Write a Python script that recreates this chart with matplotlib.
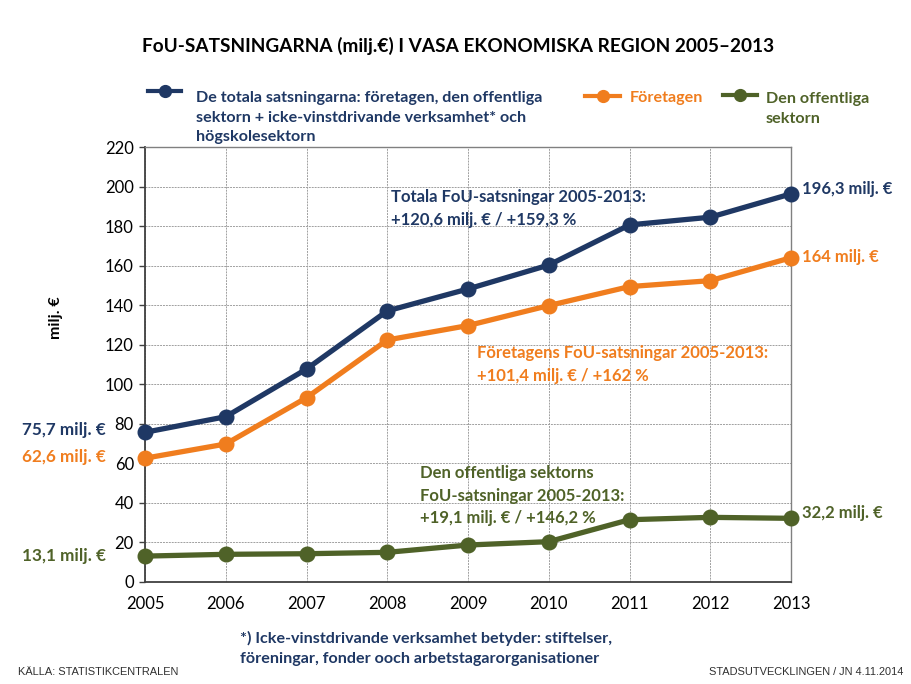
import matplotlib
matplotlib.use("Agg")
import matplotlib.pyplot as plt
from matplotlib.lines import Line2D

years = [2005, 2006, 2007, 2008, 2009, 2010, 2011, 2012, 2013]
totala = [75.7, 83.6, 107.7, 137.1, 148.2, 160.3, 180.6, 184.5, 196.3]
foretagen = [62.6, 69.8, 93.2, 122.4, 129.7, 139.8, 149.4, 152.4, 164.0]
offentliga = [13.1, 14.0, 14.3, 15.0, 18.7, 20.4, 31.5, 32.7, 32.2]
yticks = list(range(0, 221, 20))

NAVY = "#1f3864"
ORANGE = "#f07d1e"
GREEN = "#4f6228"

plt.rcParams['font.family'] = ['Lato', 'DejaVu Sans']

W, H = 911, 684
fig = plt.figure(figsize=(W / 100, H / 100), dpi=100)

def fx(x):
    return x / W

def fy(y):
    return 1 - y / H

ax = fig.add_axes([fx(145), fy(582), fx(791) - fx(145), fy(147) - fy(582)])

for data, col in [(totala, NAVY), (foretagen, ORANGE), (offentliga, GREEN)]:
    ax.plot(years, data, color=col, lw=3.8, marker='o', ms=10.5, zorder=3, clip_on=False)

ax.set_xlim(2005, 2013)
ax.set_ylim(0, 220)
ax.set_xticks(years)
ax.set_yticks(yticks)
ax.tick_params(axis='both', labelsize=12, colors='black')
ax.tick_params(axis='x', length=0, pad=10)
ax.tick_params(axis='y', length=4, width=1, color='#404040', pad=4)
ax.grid(True, color='#a0a0a0', lw=0.7, ls=(0, (2, 1)))
ax.set_axisbelow(True)
for s in ['top', 'right']:
    ax.spines[s].set_color('#808080')
    ax.spines[s].set_linewidth(1)
for s in ['left', 'bottom']:
    ax.spines[s].set_color('#404040')
    ax.spines[s].set_linewidth(1.3)
fig.text(fx(56), fy(318), 'milj. €', rotation=90, fontsize=11.5, fontweight='bold',
         ha='center', va='center')

# Title
fig.text(fx(458), fy(46), 'FoU-SATSNINGARNA (milj.€) I VASA EKONOMISKA REGION 2005–2013',
         fontsize=13.7, fontweight='bold', ha='center', va='center', color='black')

# Legend (manual)
def legend_marker(x0, x1, y, col):
    fig.add_artist(Line2D([fx(x0), fx(x1)], [fy(y), fy(y)], color=col, lw=3.0,
                          transform=fig.transFigure))
    fig.add_artist(Line2D([fx((x0 + x1) / 2)], [fy(y)], color=col, marker='o', ms=8.5,
                          transform=fig.transFigure))

legend_marker(148, 181, 91, NAVY)
fig.text(fx(196), fy(91), 'De totala satsningarna: företagen, den offentliga\n'
         'sektorn + icke-vinstdrivande verksamhet* och\nhögskolesektorn',
         fontsize=11.6, fontweight='bold', color=NAVY, ha='left', va='top',
         linespacing=1.52)
legend_marker(585, 620, 96, ORANGE)
fig.text(fx(630), fy(98), 'Företagen', fontsize=11.6, fontweight='bold', color=ORANGE,
         ha='left', va='center')
legend_marker(723, 757, 95, GREEN)
fig.text(fx(766), fy(92), 'Den offentliga\nsektorn', fontsize=11.6, fontweight='bold',
         color=GREEN, ha='left', va='top', linespacing=1.52)

# Annotations
fig.text(fx(391), fy(189), 'Totala FoU-satsningar 2005-2013:\n+120,6 milj. € / +159,3 %',
         fontsize=12, fontweight='bold', color=NAVY, ha='left', va='top', linespacing=1.5)
fig.text(fx(477), fy(345), 'Företagens FoU-satsningar 2005-2013:\n+101,4 milj. € / +162 %',
         fontsize=12, fontweight='bold', color=ORANGE, ha='left', va='top', linespacing=1.5)
fig.text(fx(420), fy(465), 'Den offentliga sektorns\nFoU-satsningar 2005-2013:\n+19,1 milj. € / +146,2 %',
         fontsize=12, fontweight='bold', color=GREEN, ha='left', va='top', linespacing=1.5)

fig.text(fx(802), fy(189), '196,3 milj. €', fontsize=12, fontweight='bold', color=NAVY,
         ha='left', va='center')
fig.text(fx(802), fy(257), '164 milj. €', fontsize=12, fontweight='bold', color=ORANGE,
         ha='left', va='center')
fig.text(fx(802), fy(513), '32,2 milj. €', fontsize=12, fontweight='bold', color=GREEN,
         ha='left', va='center')
fig.text(fx(106), fy(430), '75,7 milj. €', fontsize=12.3, fontweight='bold', color=NAVY,
         ha='right', va='center')
fig.text(fx(106), fy(457), '62,6 milj. €', fontsize=12.3, fontweight='bold', color=ORANGE,
         ha='right', va='center')
fig.text(fx(106), fy(556), '13,1 milj. €', fontsize=12.3, fontweight='bold', color=GREEN,
         ha='right', va='center')

# Footnote
fig.text(fx(240), fy(631), '*) Icke-vinstdrivande verksamhet betyder: stiftelser,\n'
         'föreningar, fonder ooch arbetstagarorganisationer',
         fontsize=11.6, fontweight='bold', color=NAVY, ha='left', va='top', linespacing=1.5)

fig.text(fx(18), fy(672), 'KÄLLA: STATISTIKCENTRALEN', fontsize=7.9, color='#303030',
         ha='left', va='center', family=['Liberation Sans', 'DejaVu Sans'])
fig.text(fx(903), fy(672), 'STADSUTVECKLINGEN / JN 4.11.2014', fontsize=7.9, color='#303030',
         ha='right', va='center', family=['Liberation Sans', 'DejaVu Sans'])

fig.savefig('out.png', dpi=100)
